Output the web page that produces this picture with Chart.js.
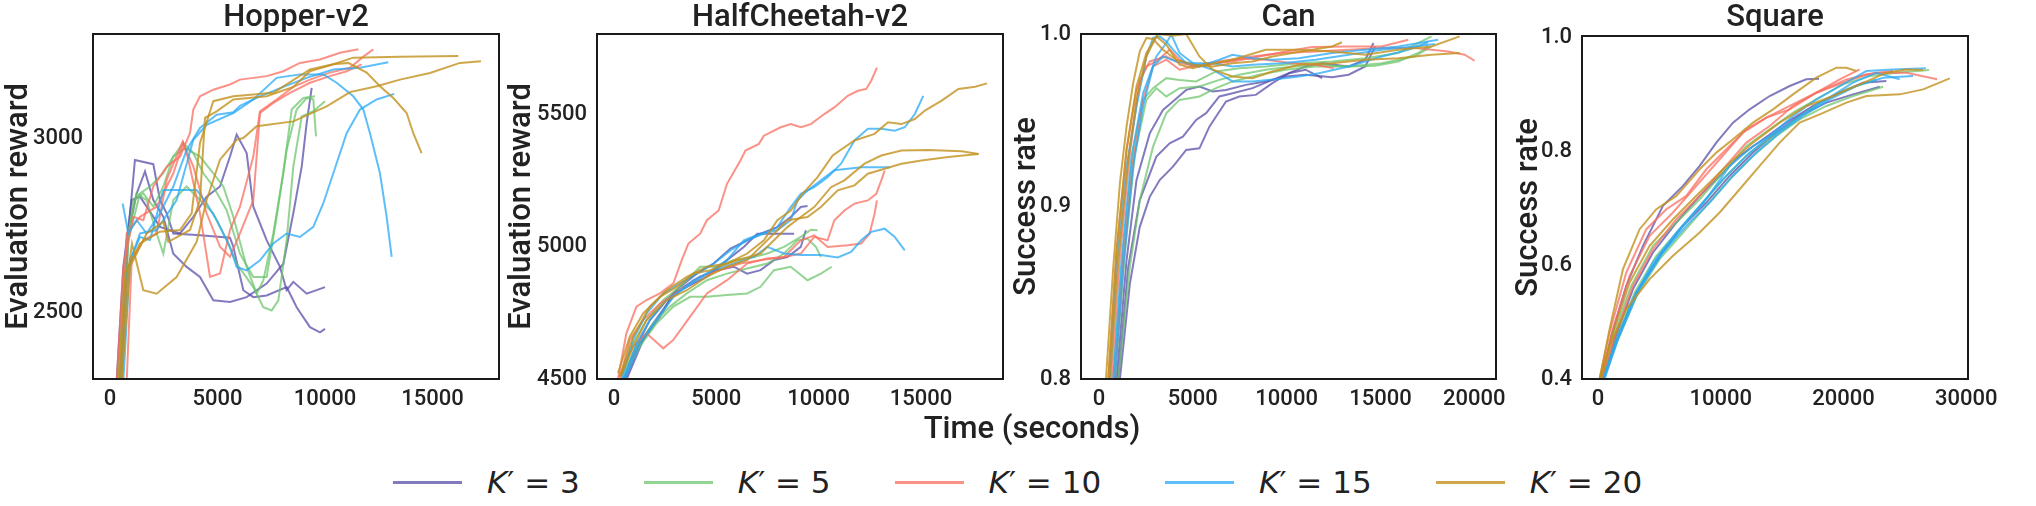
<!DOCTYPE html>
<html>
<head>
<meta charset="utf-8">
<script src="https://cdn.jsdelivr.net/npm/chart.js@4.4.0/dist/chart.umd.min.js"></script>
<style>
  body { margin: 0; width: 2036px; height: 506px; background: #fff; position: relative; overflow: hidden; font-family: Roboto, sans-serif; }
  canvas { position: absolute; top: 0; }
  #xlabel { position: absolute; left: 0; width: 2064px; top: 410px; text-align: center; font-size: 31px; font-weight: 500; line-height: 36px; color: #222; }
  #legend { position: absolute; left: 393px; top: 462px; height: 40px; display: flex; align-items: center;
            font-family: 'DejaVu Sans', sans-serif; font-size: 31px; color: #222; white-space: nowrap; }
  .item { display: flex; align-items: center; margin-right: 64px; }
  .swatch { width: 69px; height: 3px; margin-right: 25px; }
</style>
</head>
<body>
<canvas id="hopper" width="540" height="420" style="left:0px"></canvas>
<canvas id="cheetah" width="540" height="420" style="left:500px"></canvas>
<canvas id="can" width="520" height="420" style="left:1005px"></canvas>
<canvas id="square" width="536" height="420" style="left:1500px"></canvas>
<div id="xlabel">Time (seconds)</div>
<div id="legend"></div>
<script>
// ===== DATA ===== //
const kValues = [3, 5, 10, 15, 20];

// each run: [time (s), value]
const hopperK3 = [
  [[310,2300],[620,2630],[1010,2822],[1395,2832],[1705,2803],[2325,2745],[3255,2726],[3875,2774],[4495,2832],[5115,2861],[5580,2947],[5890,3010],[6355,2957],[6665,2803],[7285,2707],[7905,2630],[8215,2563],[8525,2587],[9145,2553],[10000,2572]],
  [[465,2300],[775,2678],[1160,2937],[2015,2925],[2325,2822],[2635,2784],[2945,2726],[4185,2721],[5580,2714],[5735,2688],[6200,2563],[6665,2543],[7285,2548],[8215,2572],[8680,2514],[9300,2457],[9765,2442],[10000,2452]],
  [[543,2300],[853,2726],[1240,2841],[1628,2904],[2015,2822],[2480,2774],[2945,2668],[3565,2630],[4185,2601],[4805,2534],[5580,2529],[6355,2543],[7285,2582],[8060,2639],[8525,2784],[8915,2918],[9145,3043],[9380,3144]]
];
const hopperK5 = [
  [[388,2300],[698,2649],[1085,2822],[1550,2841],[2015,2803],[2480,2861],[2945,2947],[3410,2986],[3875,2957],[4340,2899],[4805,2861],[5425,2793],[6045,2668],[6665,2601],[7285,2601],[7750,2774],[8215,2966],[8680,3082],[9145,3115],[9455,3111],[9580,3005]],
  [[465,2300],[775,2707],[1240,2841],[1705,2822],[2170,2726],[2480,2668],[2945,2822],[3565,2861],[4185,2822],[4805,2784],[5425,2707],[5890,2639],[6665,2572],[7130,2514],[7520,2505],[7830,2534],[8215,2707],[8525,2918],[8915,3062],[9455,3077],[10000,3106]],
  [[543,2300],[853,2707],[1395,2841],[1860,2861],[2480,2899],[2945,2947],[3488,2971],[4185,2947],[4805,2899],[5270,2861],[5735,2774],[6355,2630],[6820,2553],[7130,2591],[7595,2726],[8060,2899],[8448,3082],[8990,3115],[9530,3120]]
];
const hopperK10 = [
  [[310,2300],[620,2630],[1085,2774],[1550,2764],[2015,2861],[2635,2918],[3255,2947],[3720,3014],[3875,3082],[4185,3120],[4805,3139],[5580,3154],[6045,3168],[7285,3178],[8060,3192],[8835,3216],[9765,3226],[10695,3245],[11550,3255]],
  [[465,2300],[775,2726],[1395,2774],[2170,2803],[2945,2899],[3410,2986],[3643,2938],[4185,2784],[4650,2601],[5115,2611],[5580,2736],[6045,2803],[6665,2947],[6975,3077],[7750,3111],[8525,3147],[9300,3168],[10230,3188],[11160,3202],[11780,3234],[12245,3255]],
  [[775,2300],[1008,2649],[1550,2707],[2170,2726],[2635,2880],[3379,2990],[3875,2918],[4495,2784],[5115,2688],[5580,2659],[6045,2726],[6665,2822],[6975,3072],[7595,3101],[8370,3130],[9300,3159],[10230,3178],[11005,3192],[11700,3212]]
];
const hopperK15 = [
  [[589,2812],[853,2726],[1240,2764],[1705,2726],[2325,2784],[2945,2861],[3565,2966],[4185,3029],[4960,3067],[5735,3074],[6045,3093],[6975,3120],[8060,3147],[9145,3173],[10385,3197],[11625,3202],[12940,3218]],
  [[465,2300],[853,2630],[1395,2726],[2170,2736],[3100,2822],[3875,2995],[4495,3038],[5735,3072],[6665,3111],[7750,3173],[8835,3183],[9920,3183],[10540,3159],[11315,3120],[11780,3082],[12090,3014],[12555,2899],[12865,2774],[13100,2659]],
  [[620,2300],[930,2649],[1395,2716],[1860,2707],[2480,2851],[3255,2851],[4030,2851],[4495,2813],[4960,2764],[5580,2688],[5890,2630],[6355,2620],[6975,2649],[7595,2697],[8215,2726],[8835,2716],[9455,2745],[9920,2813],[10385,2899],[11005,3014],[11625,3082],[12400,3111],[13220,3127]]
];
const hopperK20 = [
  [[465,2300],[775,2582],[1023,2697],[1550,2563],[2170,2553],[3100,2601],[4030,2702],[4495,2822],[5115,2938],[5890,2995],[6200,3000],[6820,3034],[8525,3048],[10075,3091],[11160,3132],[12400,3149],[13485,3168],[14880,3187],[16275,3216],[17250,3221]],
  [[540,2300],[930,2630],[1705,2726],[2480,2760],[2713,2702],[3720,2736],[4185,2822],[4418,3058],[4960,3077],[5735,3111],[7285,3120],[8525,3147],[9300,3192],[10385,3212],[11080,3216],[11935,3188],[12555,3149],[13175,3115],[13795,3072],[14105,3014],[14490,2957]],
  [[388,2300],[698,2611],[1395,2697],[2325,2731],[3255,2736],[3798,2784],[4185,2986],[4805,3106],[5735,3120],[7595,3130],[9300,3197],[10385,3212],[11315,3231],[13485,3234],[16198,3236]]
];

const cheetahK3 = [
  [[443,4497],[1098,4623],[1754,4723],[2573,4799],[3229,4849],[4048,4899],[4868,4937],[5687,4994],[6507,5025],[7162,5050],[7982,5075],[8637,5113],[9129,5151],[9457,5155]],
  [[525,4497],[1262,4635],[1918,4711],[2737,4799],[3393,4849],[4212,4887],[5032,4912],[5851,4925],[6507,4899],[7162,4912],[7818,4950],[8474,4962],[9129,5000],[9375,5063]],
  [[606,4497],[1426,4648],[2245,4736],[2901,4824],[3557,4849],[4540,4887],[5523,4950],[6343,5000],[7000,5050],[7818,5050],[8474,5050],[8801,5050]]
];
const cheetahK5 = [
  [[279,4509],[934,4635],[1590,4723],[2409,4799],[3229,4849],[4212,4925],[5032,4925],[5851,4950],[6835,4962],[7490,4975],[8310,5000],[9129,5038],[9621,5065],[9949,5063]],
  [[361,4509],[1098,4623],[1918,4711],[2737,4774],[3557,4824],[4540,4874],[5523,4899],[6507,4918],[7490,4937],[8310,4975],[8965,5025],[9457,5031],[9867,5000],[10113,4962]],
  [[443,4503],[1262,4623],[2082,4711],[2901,4774],[3721,4811],[4540,4811],[5523,4818],[6507,4824],[7162,4849],[7818,4912],[8637,4925],[9457,4874],[10113,4899],[10637,4925]]
];
const cheetahK10 = [
  [[197,4502],[606,4673],[1098,4774],[1590,4799],[2245,4824],[2901,4862],[3311,4950],[3639,5013],[4212,5050],[4540,5101],[5114,5138],[5523,5239],[6179,5327],[6425,5365],[7081,5390],[7326,5421],[8146,5453],[8637,5465],[9129,5453],[9621,5465],[10277,5503],[10768,5528],[11424,5572],[11916,5591],[12325,5598],[12571,5629],[12850,5679]],
  [[279,4509],[934,4623],[1590,4673],[2409,4616],[2901,4648],[3721,4736],[4540,4824],[5523,4874],[6507,4937],[7490,4956],[8310,4962],[9129,4975],[9785,5038],[10440,5025],[10768,5101],[11260,5138],[11752,5164],[12407,5176],[12817,5201],[13063,5252],[13227,5289]],
  [[279,4497],[770,4648],[1426,4723],[2245,4786],[3229,4836],[4212,4887],[5196,4912],[6179,4937],[7162,4950],[8310,4962],[9129,5025],[9785,5044],[10440,5000],[11424,5006],[12079,5013],[12489,5050],[12735,5126],[12850,5176]]
];
const cheetahK15 = [
  [[361,4497],[934,4648],[1590,4748],[2409,4824],[3229,4862],[4048,4899],[4868,4937],[5687,4987],[6507,5025],[7326,5050],[7982,5075],[8637,5151],[9129,5201],[9785,5226],[10440,5264],[11096,5315],[11752,5403],[12407,5447],[13063,5447],[13719,5440],[14210,5453],[14702,5503],[15112,5572]],
  [[443,4497],[1098,4635],[1754,4723],[2573,4799],[3557,4849],[4540,4899],[5523,4950],[6343,5025],[7162,5050],[7982,5063],[8637,5101],[8965,5176],[9457,5214],[10113,5252],[10768,5290],[11424,5296],[12079,5302],[13473,5302]],
  [[525,4497],[1262,4635],[2082,4723],[2901,4811],[3884,4874],[4868,4912],[5851,4937],[6835,4962],[7490,5000],[8310,4975],[9129,4969],[10113,4969],[10932,4960],[11588,4981],[12079,5025],[12571,5057],[13227,5069],[13719,5038],[14210,4987]]
];
const cheetahK20 = [
  [[197,4522],[770,4660],[1426,4748],[2245,4811],[3065,4849],[3884,4899],[4704,4912],[5523,4937],[6507,4975],[7326,5025],[7982,5101],[8637,5138],[9211,5201],[9949,5264],[10686,5346],[11752,5403],[12735,5428],[13391,5472],[14046,5465],[14702,5484],[15194,5516],[16013,5554],[16833,5598],[17652,5606],[18225,5619]],
  [[279,4509],[934,4660],[1754,4774],[2573,4836],[3557,4887],[4540,4925],[5523,4937],[6343,4956],[7162,4975],[7818,5025],[8474,5075],[9129,5113],[9785,5151],[10604,5226],[11260,5252],[12243,5315],[13063,5346],[14046,5365],[15357,5367],[16996,5362],[17815,5352]],
  [[361,4516],[934,4623],[1590,4723],[2573,4799],[3557,4836],[4540,4887],[5523,4925],[6507,4950],[7490,5025],[8474,5101],[9457,5113],[10113,5151],[10932,5214],[11752,5233],[12407,5277],[13227,5296],[14046,5315],[15030,5327],[16341,5340],[17815,5352]]
];

const canK3 = [
  [[1113,0.8],[1643,0.8552],[2173,0.8882],[2703,0.9056],[3234,0.9153],[3940,0.9231],[4647,0.9328],[5354,0.9337],[5884,0.9463],[6768,0.9609],[7474,0.9638],[8357,0.9647],[9241,0.9715],[10125,0.9773],[11009,0.9812],[11892,0.9831],[13306,0.9812],[14189,0.9851],[14631,0.9948]],
  [[1025,0.8],[1555,0.8649],[2173,0.9037],[3057,0.9289],[3764,0.9366],[4470,0.9405],[5177,0.9502],[5707,0.9541],[6414,0.9638],[7121,0.9657],[8181,0.9686],[9241,0.9734],[10125,0.9773],[11009,0.9793],[11892,0.9744]],
  [[937,0.8],[1467,0.8688],[1997,0.9153],[2703,0.9424],[3410,0.956],[3940,0.9609],[4647,0.9676],[5354,0.9696],[6061,0.9667],[6768,0.9676],[7828,0.9705],[8888,0.9725],[9948,0.9754],[11009,0.9764],[12422,0.975],[13306,0.9764],[14189,0.9812],[14719,0.9928]]
];
const canK5 = [
  [[760,0.8],[1290,0.8746],[1820,0.9328],[2350,0.9618],[2880,0.9686],[3587,0.9744],[4294,0.9734],[5177,0.9725],[6237,0.9783],[7474,0.9802],[8888,0.9812],[10655,0.9831],[12422,0.9841],[14189,0.986],[15956,0.989],[17723,0.9986]],
  [[848,0.8],[1378,0.8727],[1909,0.9308],[2527,0.9618],[3057,0.9686],[3587,0.9638],[4294,0.9686],[5354,0.9696],[6414,0.9734],[7474,0.9764],[8888,0.9793],[10302,0.9812],[11716,0.9822],[13306,0.9812],[14719,0.9816],[15956,0.9841],[17016,0.989],[17546,0.9928]],
  [[1025,0.8],[1643,0.8649],[2173,0.9037],[2880,0.9347],[3587,0.9541],[4294,0.9618],[5354,0.9638],[6237,0.9686],[7121,0.9725],[8535,0.9764],[9948,0.9793],[11539,0.9812],[13306,0.9812],[15073,0.9831],[16840,0.987],[17723,0.9928]]
];
const canK10 = [
  [[495,0.8],[937,0.8746],[1467,0.9328],[1997,0.9676],[2527,0.9812],[3057,0.9841],[3764,0.9909],[4294,0.9851],[5001,0.9812],[6061,0.9831],[7121,0.9841],[8535,0.987],[9948,0.9899],[11362,0.9924],[13306,0.9928],[15073,0.9928],[16487,0.9967]],
  [[671,0.8],[1113,0.8707],[1643,0.9308],[2173,0.9734],[2703,0.9841],[3587,0.987],[4294,0.9831],[5354,0.9812],[6768,0.9841],[8181,0.987],[9772,0.989],[11539,0.9899],[13306,0.9909],[15073,0.9919],[16840,0.9919],[18606,0.9899],[19490,0.988],[20020,0.9845]],
  [[848,0.8],[1290,0.8688],[1820,0.9269],[2350,0.9618],[2880,0.9812],[3587,0.9851],[4294,0.9793],[5354,0.9822],[6414,0.9841],[7474,0.986],[8888,0.9851],[10302,0.9831],[11539,0.9822],[12510,0.9802]]
];
const canK15 = [
  [[583,0.8],[937,0.8649],[1467,0.9231],[1997,0.9579],[2527,0.987],[2880,0.9977],[3234,0.9986],[3587,0.9957],[3940,0.9909],[4647,0.9831],[5354,0.9812],[6414,0.9851],[7121,0.988],[8181,0.986],[9241,0.9851],[10655,0.986],[12422,0.989],[14189,0.9909],[15956,0.9928],[18076,0.9967]],
  [[760,0.8],[1202,0.8688],[1732,0.9289],[2350,0.9657],[3057,0.987],[3587,0.9948],[3852,0.9996],[4294,0.989],[5001,0.9831],[6061,0.9831],[7121,0.9812],[8181,0.9822],[9772,0.9831],[11539,0.9851],[13306,0.988],[15073,0.9909],[16840,0.9928],[17900,0.9942]],
  [[848,0.8],[1290,0.8649],[1820,0.9231],[2350,0.9579],[2880,0.9812],[3410,0.987],[4117,0.9841],[5001,0.9831],[6061,0.9793],[7121,0.9725],[8181,0.9725],[9418,0.9738],[10655,0.9754],[11716,0.9773],[13306,0.9812],[15073,0.987],[16487,0.9909],[17546,0.9952]]
];
const canK20 = [
  [[371,0.8],[760,0.8649],[1113,0.9134],[1467,0.9463],[1820,0.9715],[2173,0.9899],[2527,0.9977],[2880,0.9971],[3410,0.9909],[4117,0.9851],[5001,0.9822],[6061,0.9812],[7121,0.9831],[8181,0.9841],[9241,0.987],[10302,0.989],[11362,0.9909],[12422,0.9928],[12952,0.9952]],
  [[495,0.8],[937,0.8746],[1467,0.9328],[1997,0.9696],[2527,0.989],[3145,1.0],[3940,0.999],[4647,1.0],[5354,0.987],[6061,0.9793],[7121,0.9754],[8181,0.9744],[9241,0.9783],[10655,0.9822],[12422,0.9831],[14189,0.9851],[15956,0.986],[17723,0.988],[19225,0.989]],
  [[583,0.8],[1025,0.8688],[1555,0.9269],[1997,0.9618],[2527,0.987],[3057,0.9986],[3587,0.9938],[4294,0.9822],[5001,0.9802],[5707,0.9822],[7121,0.9851],[8888,0.9909],[10655,0.9909],[12422,0.9899],[14189,0.988],[15956,0.9909],[17723,0.9928],[19225,0.9986]]
];

const squareK3 = [
  [[272,0.4],[1087,0.4761],[2309,0.5639],[3668,0.6341],[5298,0.7044],[6928,0.7395],[8287,0.7746],[9645,0.8156],[11004,0.8507],[12362,0.8741],[13992,0.8975],[15622,0.9151],[16981,0.9268],[18014,0.9279]],
  [[408,0.4],[1359,0.4702],[2853,0.558],[4483,0.6224],[6385,0.6751],[8287,0.7219],[9917,0.757],[11547,0.7922],[13449,0.8214],[15351,0.8507],[17524,0.88],[19698,0.9033],[21600,0.9209],[23502,0.9238]],
  [[462,0.4],[1494,0.4702],[3124,0.5522],[5027,0.6166],[6928,0.6692],[8830,0.7102],[10732,0.757],[12634,0.798],[14536,0.8331],[16438,0.8624],[18611,0.8858],[20785,0.9004],[22960,0.9139]]
];
const squareK5 = [
  [[272,0.4],[1223,0.4761],[2717,0.5639],[4483,0.6341],[6385,0.6751],[8287,0.7161],[10189,0.7629],[12091,0.8097],[13992,0.839],[15894,0.8683],[17796,0.8917],[19970,0.918],[22145,0.9326],[24317,0.9385],[26980,0.9432]],
  [[408,0.4],[1440,0.4673],[2989,0.5522],[4755,0.6166],[6657,0.6634],[8559,0.7102],[10461,0.757],[12362,0.798],[14264,0.8273],[16166,0.8565],[18068,0.8858],[20242,0.9092],[22688,0.9268]],
  [[462,0.4],[1549,0.4644],[3124,0.5463],[5027,0.6107],[6928,0.6575],[8830,0.7044],[10732,0.7512],[12634,0.7922],[14536,0.8273],[16438,0.8565],[18611,0.88],[20785,0.8975],[23231,0.9139]]
];
const squareK10 = [
  [[136,0.4],[951,0.4819],[2309,0.5873],[3940,0.6634],[5570,0.6985],[7200,0.7219],[8830,0.7687],[10461,0.8039],[12091,0.839],[13721,0.8595],[15622,0.88],[17796,0.9033],[20242,0.9268],[22688,0.9385],[25132,0.9385],[27632,0.9268]],
  [[272,0.4],[1223,0.4878],[2581,0.5814],[4211,0.6517],[6113,0.6927],[8015,0.7395],[9917,0.7863],[11819,0.8331],[13721,0.8595],[15622,0.8741],[17796,0.9033],[19970,0.9209],[21872,0.9356],[24045,0.9414]],
  [[353,0.4],[1359,0.4761],[2853,0.5639],[4483,0.6283],[6385,0.6809],[8287,0.7219],[10189,0.7687],[12091,0.8156],[13992,0.8448],[15894,0.88],[17796,0.9033],[19698,0.9268],[21329,0.9443]]
];
const squareK15 = [
  [[408,0.4],[1359,0.4585],[2853,0.5405],[4483,0.6049],[6385,0.6575],[8287,0.7044],[10189,0.7512],[12091,0.7922],[13992,0.8273],[15894,0.8624],[17796,0.8917],[19698,0.9151],[21872,0.9414],[24045,0.9443],[26708,0.9461]],
  [[462,0.4],[1494,0.4644],[3124,0.5522],[5027,0.6166],[6928,0.6692],[8830,0.7161],[10732,0.7746],[12634,0.8097],[14536,0.8331],[16438,0.8624],[18611,0.8917],[20785,0.9209],[22688,0.9385],[24589,0.9268]],
  [[543,0.4],[1630,0.4702],[3396,0.558],[5298,0.6224],[7200,0.6692],[9102,0.7102],[11004,0.757],[12906,0.798],[14808,0.8331],[16710,0.8624],[18883,0.8917],[21057,0.9151],[23231,0.9297],[25676,0.9326]]
];
const squareK20 = [
  [[136,0.4],[951,0.4585],[2309,0.5229],[4211,0.5756],[6113,0.6166],[8287,0.6575],[9917,0.6927],[11547,0.7336],[13177,0.7746],[14808,0.8156],[16438,0.8507],[18068,0.8653],[20242,0.8858],[21872,0.8975],[24589,0.9004],[26491,0.9092],[28665,0.9285]],
  [[136,0.4],[951,0.4878],[2038,0.5931],[3396,0.6634],[4755,0.6985],[6385,0.7219],[8287,0.7687],[9645,0.798],[11004,0.8214],[12634,0.8507],[14264,0.8741],[15894,0.9004],[17796,0.9297],[19426,0.9473],[20242,0.9473],[21057,0.9414]],
  [[272,0.4],[1223,0.4819],[2581,0.5697],[4211,0.6341],[6113,0.6809],[8287,0.7278],[10461,0.7746],[12634,0.8156],[14808,0.8507],[16981,0.88],[19155,0.8975],[21329,0.918],[23502,0.9385],[25132,0.9443],[26491,0.9432]]
];

// tick labels
const hopperXTicks = [0, 5000, 10000, 15000];
const hopperYTicks = [2500, 3000];
const cheetahXTicks = [0, 5000, 10000, 15000];
const cheetahYTicks = [4500, 5000, 5500];
const canXTicks = [0, 5000, 10000, 15000, 20000];
const canYTicks = [0.8, 0.9, 1.0];
const squareXTicks = [0, 10000, 20000, 30000];
const squareYTicks = [0.4, 0.6, 0.8, 1.0];

// ===== STYLE ===== //
const kColors = ['rgba(88,78,170,0.75)', 'rgba(105,195,105,0.72)', 'rgba(250,110,95,0.75)', 'rgba(40,170,245,0.75)', 'rgba(195,145,30,0.8)'];
const textColor = '#222';

// box around the plot area
const framePlugin = {
  id: 'frame',
  afterDatasetsDraw(chart) {
    const a = chart.chartArea, c = chart.ctx;
    c.save();
    c.strokeStyle = '#1a1a1a';
    c.lineWidth = 2;
    c.strokeRect(a.left, a.top, a.right - a.left, a.bottom - a.top);
    c.restore();
  }
};

function makePanel(id, title, yLabel, runsByK, xMin, xMax, yMin, yMax, xTicks, yTicks, cfg) {
  const datasets = [];
  // draw K'=20 on top
  for (let i = runsByK.length - 1; i >= 0; i--) {
    runsByK[i].forEach(run => {
      datasets.push({
        data: run.map(p => ({ x: p[0], y: p[1] })),
        borderColor: kColors[i],
        borderWidth: 2,
        pointRadius: 0,
        fill: false,
        tension: 0
      });
    });
  }
  const tickFont = { family: 'Roboto', size: 22, weight: 500 };
  return new Chart(document.getElementById(id), {
    type: 'line',
    data: { datasets },
    options: {
      responsive: false,
      animation: false,
      devicePixelRatio: 1,
      layout: { padding: { left: 0, right: cfg.padRight, top: 0, bottom: 0 } },
      plugins: {
        legend: { display: false },
        tooltip: { enabled: false },
        title: {
          display: true, text: title, fullSize: false, color: textColor,
          font: { family: 'Roboto', size: 31, weight: 500, lineHeight: 1 },
          padding: { top: 3, bottom: cfg.titleBottom }
        }
      },
      scales: {
        x: {
          type: 'linear', min: xMin, max: xMax,
          grid: { display: false, drawTicks: false },
          border: { display: false },
          ticks: { font: tickFont, color: textColor, padding: 7, autoSkip: false, maxRotation: 0, callback: v => String(v) },
          afterBuildTicks: s => { s.ticks = xTicks.map(v => ({ value: v })); },
          afterFit: s => { s.height = 41; }
        },
        y: {
          type: 'linear', min: yMin, max: yMax,
          grid: { display: false, drawTicks: false },
          border: { display: false },
          ticks: { font: tickFont, color: textColor, padding: 10, autoSkip: false, callback: v => cfg.yFmt(v) },
          afterBuildTicks: s => { s.ticks = yTicks.map(v => ({ value: v })); },
          afterFit: s => { s.width = cfg.yWidth; },
          title: {
            display: true, text: yLabel, color: textColor,
            font: { family: 'Roboto', size: 31, weight: 500, lineHeight: 1.2 },
            padding: { top: cfg.yTitlePad, bottom: 0 }
          }
        }
      }
    },
    plugins: [framePlugin]
  });
}

const intFmt = v => String(v);
const decFmt = v => v.toFixed(1);

makePanel('hopper', 'Hopper-v2', 'Evaluation reward',
  [hopperK3, hopperK5, hopperK10, hopperK15, hopperK20],
  -790, 18090, 2308, 3299, hopperXTicks, hopperYTicks,
  { yWidth: 93, padRight: 41, yTitlePad: 1, titleBottom: 0, yFmt: intFmt });

makePanel('cheetah', 'HalfCheetah-v2', 'Evaluation reward',
  [cheetahK3, cheetahK5, cheetahK10, cheetahK15, cheetahK20],
  -830, 19010, 4500, 5806, cheetahXTicks, cheetahYTicks,
  { yWidth: 97, padRight: 37, yTitlePad: 4, titleBottom: 0, yFmt: intFmt });

makePanel('can', 'Can', 'Success rate',
  [canK3, canK5, canK10, canK15, canK20],
  -960, 21160, 0.8, 1.0, canXTicks, canYTicks,
  { yWidth: 76, padRight: 29, yTitlePad: 4, titleBottom: 0, yFmt: decFmt });

makePanel('square', 'Square', 'Success rate',
  [squareK3, squareK5, squareK10, squareK15, squareK20],
  -1300, 30150, 0.4, 1.003, squareXTicks, squareYTicks,
  { yWidth: 82, padRight: 68, yTitlePad: 11, titleBottom: 2, yFmt: decFmt });

// ===== LEGEND ===== //
const legendEl = document.getElementById('legend');
kValues.forEach((k, i) => {
  const item = document.createElement('div');
  item.className = 'item';
  const sw = document.createElement('span');
  sw.className = 'swatch';
  sw.style.background = kColors[i];
  const label = document.createElement('span');
  label.innerHTML = '<i>K</i>\u2032 = ' + k;
  item.appendChild(sw);
  item.appendChild(label);
  legendEl.appendChild(item);
});
</script>
</body>
</html>
